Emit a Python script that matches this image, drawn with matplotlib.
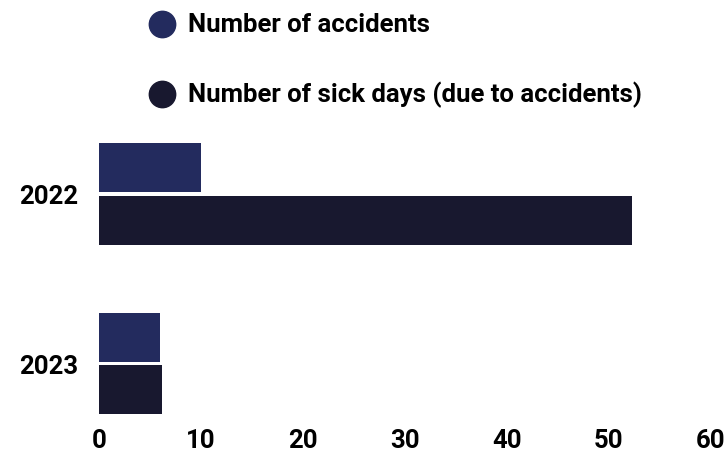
import numpy as np
import matplotlib.pyplot as plt

plt.rcParams['font.family'] = ['Roboto', 'DejaVu Sans']
plt.rcParams['font.weight'] = 'bold'

# accidents and sick days per year
years = ['2022', '2023']
accidents = [10, 6]
sick_days = [52.3, 6.2]
series_names = ['Number of accidents', 'Number of sick days (due to accidents)']
colors = ['#232b5e', '#18182f']
xticks = [0, 10, 20, 30, 40, 50, 60]

W, H = 728, 452
fig = plt.figure(figsize=(W / 100, H / 100), dpi=100)
ax = fig.add_axes([99 / W, 27 / H, 612 / W, 295 / H])

y = np.arange(len(years))
h = 0.289
off = 0.155
ax.barh(y - off, accidents, height=h, color=colors[0])
ax.barh(y + off, sick_days, height=h, color=colors[1])

ax.set_xlim(0, 60)
ax.set_ylim(1.357, -0.383)
ax.set_xticks(xticks)
ax.set_yticks(y, years)
ax.tick_params(axis='x', length=0, pad=3, labelsize=18.5)
ax.tick_params(axis='y', length=0, pad=15, labelsize=18.5)
for s in ax.spines.values():
    s.set_visible(False)

# legend drawn by hand at the top
for i, (name, c) in enumerate(zip(series_names, colors)):
    ypix = [25, 95][i]
    fy = 1 - ypix / H
    fig.add_artist(plt.Line2D([162 / W], [fy], marker='o', markersize=19,
                              color=c, transform=fig.transFigure))
    fig.text(188 / W, fy, name, fontsize=18.5, fontweight='bold', va='center', ha='left')

fig.savefig('out.png', dpi=100)
